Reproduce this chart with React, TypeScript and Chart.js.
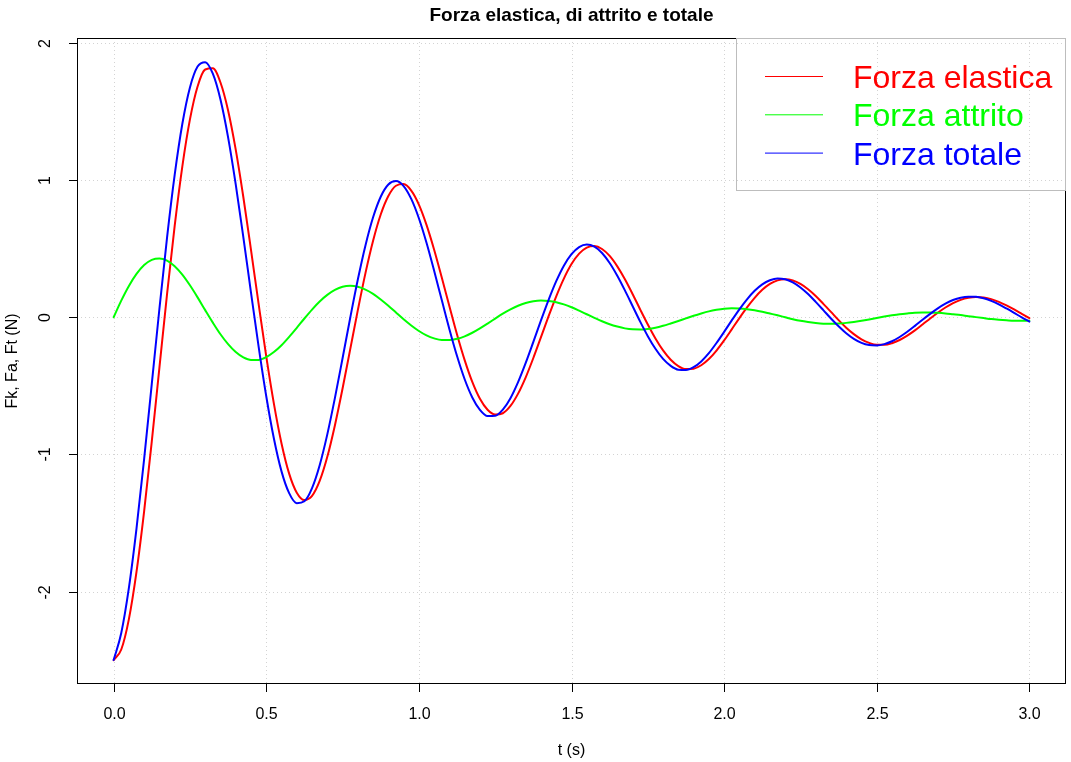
import React, { useEffect, useRef } from "react";
import { Chart, registerables } from "chart.js";

Chart.register(...registerables);

// ---- data ----
const timeStep = 0.025;
const times: number[] = Array.from({ length: 121 }, (_, i) => Math.round(i * timeStep * 1000) / 1000);

const forzaElastica = [
  -2.5, -2.423, -2.201, -1.855, -1.413, -0.905, -0.367, 0.168, 0.666, 1.099,
  1.443, 1.683, 1.807, 1.815, 1.712, 1.508, 1.222, 0.875, 0.492, 0.097,
  -0.285, -0.63, -0.92, -1.14, -1.279, -1.333, -1.303, -1.194, -1.018, -0.787,
  -0.52, -0.234, 0.052, 0.322, 0.558, 0.749, 0.884, 0.959, 0.971, 0.924,
  0.822, 0.674, 0.493, 0.29, 0.08, -0.126, -0.313, -0.472, -0.595, -0.675,
  -0.71, -0.7, -0.647, -0.557, -0.438, -0.297, -0.145, 0.008, 0.153, 0.282,
  0.388, 0.464, 0.508, 0.519, 0.498, 0.447, 0.371, 0.277, 0.17, 0.057,
  -0.053, -0.155, -0.242, -0.31, -0.356, -0.378, -0.375, -0.35, -0.305, -0.243,
  -0.169, -0.088, -0.006, 0.072, 0.142, 0.2, 0.243, 0.269, 0.277, 0.268,
  0.243, 0.204, 0.155, 0.098, 0.039, -0.021, -0.076, -0.123, -0.161, -0.187,
  -0.201, -0.201, -0.189, -0.166, -0.134, -0.096, -0.053, -0.009, 0.033, 0.071,
  0.103, 0.127, 0.142, 0.148, 0.144, 0.132, 0.112, 0.086, 0.057, 0.025,
  -0.007,
];

const forzaAttrito = [
  0, 0.121, 0.228, 0.316, 0.381, 0.419, 0.429, 0.413, 0.372, 0.311,
  0.233, 0.145, 0.052, -0.039, -0.124, -0.196, -0.254, -0.293, -0.312, -0.311,
  -0.291, -0.254, -0.204, -0.143, -0.077, -0.009, 0.056, 0.115, 0.163, 0.199,
  0.222, 0.229, 0.222, 0.202, 0.171, 0.13, 0.084, 0.034, -0.015, -0.06,
  -0.1, -0.132, -0.154, -0.166, -0.166, -0.157, -0.139, -0.113, -0.081, -0.046,
  -0.01, 0.026, 0.057, 0.084, 0.104, 0.117, 0.122, 0.119, 0.11, 0.094,
  0.073, 0.048, 0.022, -0.004, -0.029, -0.051, -0.068, -0.081, -0.088, -0.089,
  -0.085, -0.076, -0.062, -0.045, -0.027, -0.008, 0.011, 0.028, 0.043, 0.054,
  0.062, 0.065, 0.064, 0.059, 0.051, 0.04, 0.027, 0.014, 0.0, -0.014,
  -0.026, -0.035, -0.042, -0.047, -0.048, -0.046, -0.041, -0.034, -0.026, -0.016,
  -0.005, 0.005, 0.014, 0.022, 0.028, 0.033, 0.035, 0.034, 0.032, 0.028,
  0.022, 0.016, 0.008, 0.001, -0.006, -0.013, -0.018, -0.022, -0.025, -0.025,
  -0.025,
];

const forzaTotale = [
  -2.5, -2.302, -1.973, -1.539, -1.032, -0.486, 0.062, 0.581, 1.038, 1.409,
  1.676, 1.828, 1.86, 1.776, 1.588, 1.312, 0.969, 0.583, 0.18, -0.214,
  -0.576, -0.884, -1.124, -1.283, -1.356, -1.342, -1.246, -1.079, -0.854, -0.588,
  -0.299, -0.005, 0.275, 0.524, 0.729, 0.879, 0.968, 0.993, 0.957, 0.863,
  0.722, 0.543, 0.339, 0.125, -0.087, -0.283, -0.452, -0.585, -0.676, -0.721,
  -0.719, -0.674, -0.59, -0.473, -0.333, -0.18, -0.023, 0.127, 0.263, 0.376,
  0.46, 0.512, 0.53, 0.515, 0.469, 0.396, 0.303, 0.196, 0.082, -0.032,
  -0.138, -0.23, -0.304, -0.355, -0.383, -0.385, -0.364, -0.322, -0.262, -0.188,
  -0.107, -0.023, 0.058, 0.131, 0.193, 0.24, 0.27, 0.283, 0.277, 0.254,
  0.217, 0.169, 0.112, 0.052, -0.009, -0.066, -0.117, -0.158, -0.187, -0.203,
  -0.206, -0.196, -0.175, -0.144, -0.106, -0.063, -0.018, 0.025, 0.065, 0.099,
  0.126, 0.143, 0.15, 0.149, 0.138, 0.119, 0.094, 0.064, 0.032, -0.001,
  -0.031,
];

const xTicks = [0, 0.5, 1, 1.5, 2, 2.5, 3];
const xTickLabels = ["0.0", "0.5", "1.0", "1.5", "2.0", "2.5", "3.0"];
const yTicks = [-2, -1, 0, 1, 2];
const yTickLabels = ["-2", "-1", "0", "1", "2"];
const seriesNames = ["Forza elastica", "Forza attrito", "Forza totale"];
const seriesColors = ["#ff0000", "#00ff00", "#0000ff"];
const chartTitle = "Forza elastica, di attrito e totale";
const xTitle = "t (s)";
const yTitle = "Fk, Fa, Ft (N)";

const FONT = '"Liberation Sans", Arial, Helvetica, sans-serif';
const W = 1071;
const H = 762;

const rBasePlugin = {
  id: "rBase",
  beforeDatasetsDraw(chart: any) {
    const { ctx, chartArea: a, scales } = chart;
    const x = scales.x;
    const y = scales.y;
    ctx.save();
    ctx.strokeStyle = "#d3d3d3";
    ctx.lineWidth = 1;
    ctx.setLineDash([1, 3]);
    for (const t of xTicks) {
      const px = Math.round(x.getPixelForValue(t)) + 0.5;
      ctx.beginPath();
      ctx.moveTo(px, a.top);
      ctx.lineTo(px, a.bottom);
      ctx.stroke();
    }
    for (const v of yTicks) {
      const py = Math.round(y.getPixelForValue(v)) + 0.5;
      ctx.beginPath();
      ctx.moveTo(a.left, py);
      ctx.lineTo(a.right, py);
      ctx.stroke();
    }
    ctx.restore();
  },
  afterDraw(chart: any) {
    const { ctx, chartArea: a, scales } = chart;
    const x = scales.x;
    const y = scales.y;
    ctx.save();
    ctx.setLineDash([]);

    // frame
    ctx.strokeStyle = "#000";
    ctx.lineWidth = 1;
    ctx.strokeRect(a.left + 0.5, a.top + 0.5, a.right - a.left - 1, a.bottom - a.top - 1);

    // x ticks + labels
    ctx.fillStyle = "#000";
    ctx.font = `16px ${FONT}`;
    ctx.textAlign = "center";
    ctx.textBaseline = "alphabetic";
    xTicks.forEach((t, i) => {
      const px = Math.round(x.getPixelForValue(t)) + 0.5;
      ctx.beginPath();
      ctx.moveTo(px, a.bottom - 0.5);
      ctx.lineTo(px, a.bottom + 8);
      ctx.stroke();
      ctx.fillText(xTickLabels[i], px, a.bottom + 35);
    });

    // y ticks + rotated labels
    yTicks.forEach((v, i) => {
      const py = Math.round(y.getPixelForValue(v)) + 0.5;
      ctx.beginPath();
      ctx.moveTo(a.left + 0.5, py);
      ctx.lineTo(a.left - 8, py);
      ctx.stroke();
      ctx.save();
      ctx.translate(a.left - 27, py);
      ctx.rotate(-Math.PI / 2);
      ctx.textAlign = "center";
      ctx.textBaseline = "alphabetic";
      ctx.fillText(yTickLabels[i], 0, 0);
      ctx.restore();
    });

    // axis titles
    ctx.textAlign = "center";
    ctx.fillText(xTitle, (a.left + a.right) / 2, 755);
    ctx.save();
    ctx.translate(17, (a.top + a.bottom) / 2);
    ctx.rotate(-Math.PI / 2);
    ctx.fillText(yTitle, 0, 0);
    ctx.restore();

    // main title
    ctx.font = `bold 19px ${FONT}`;
    ctx.fillText(chartTitle, (a.left + a.right) / 2, 21);

    // legend
    const boxLeft = 736.5;
    const boxTop = a.top + 0.5;
    const boxRight = a.right - 0.5;
    const boxBottom = 190.5;
    ctx.strokeStyle = "#bdbdbd";
    ctx.lineWidth = 1;
    ctx.strokeRect(boxLeft, boxTop, boxRight - boxLeft, boxBottom - boxTop);
    ctx.font = `32px ${FONT}`;
    ctx.textAlign = "left";
    seriesNames.forEach((name, i) => {
      const ly = 76.5 + i * 38.3;
      ctx.strokeStyle = seriesColors[i];
      ctx.lineWidth = 1;
      ctx.beginPath();
      ctx.moveTo(765, ly);
      ctx.lineTo(823, ly);
      ctx.stroke();
      ctx.fillStyle = seriesColors[i];
      ctx.fillText(name, 853, ly + 11.5);
    });

    ctx.restore();
  },
};

export default function App() {
  const canvasRef = useRef<HTMLCanvasElement | null>(null);

  useEffect(() => {
    document.body.style.margin = "0";
    const canvas = canvasRef.current;
    if (!canvas) return;
    const mk = (vals: number[]) => times.map((t, i) => ({ x: t, y: vals[i] }));
    const common = {
      borderWidth: 2,
      pointRadius: 0,
      cubicInterpolationMode: "monotone" as const,
      fill: false,
      borderCapStyle: "round" as const,
      borderJoinStyle: "round" as const,
    };
    const chart = new Chart(canvas, {
      type: "line",
      data: {
        datasets: [
          { ...common, label: seriesNames[0], data: mk(forzaElastica), borderColor: seriesColors[0], order: 2 },
          { ...common, label: seriesNames[1], data: mk(forzaAttrito), borderColor: seriesColors[1], order: 1 },
          { ...common, label: seriesNames[2], data: mk(forzaTotale), borderColor: seriesColors[2], order: 0 },
        ],
      },
      options: {
        responsive: false,
        animation: false,
        devicePixelRatio: 1,
        layout: { padding: { left: 77, top: 38, right: W - 1066, bottom: H - 684 } },
        scales: {
          x: { type: "linear", min: -0.12, max: 3.12, display: false },
          y: { type: "linear", min: -2.6745, max: 2.0365, display: false },
        },
        plugins: {
          legend: { display: false },
          title: { display: false },
          tooltip: { enabled: false },
        },
        events: [],
      },
      plugins: [rBasePlugin],
    });
    return () => chart.destroy();
  }, []);

  return (
    <div style={{ width: W, height: H, background: "#fff" }}>
      <canvas ref={canvasRef} width={W} height={H} style={{ display: "block", width: W, height: H }} />
    </div>
  );
}
